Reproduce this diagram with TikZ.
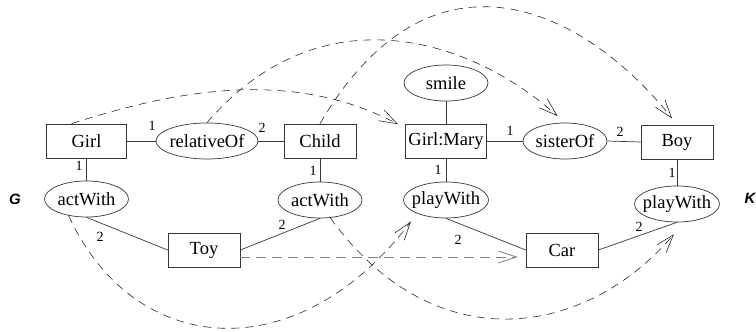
\documentclass[tikz,border=0pt]{standalone}
\usepackage{fontspec}
\setmainfont{Liberation Serif}
\setsansfont{Liberation Sans}
\usetikzlibrary{arrows.meta,shapes.geometric}
\definecolor{erline}{RGB}{55,55,55}
\definecolor{ermap}{RGB}{40,40,40}
\definecolor{ergrey}{RGB}{130,130,130}
\tikzset{
  ent/.style={
    draw=erline, line width=0.7pt, rectangle, inner sep=2pt,
    minimum width=72pt, minimum height=34pt,
    font=\fontsize{18.5}{20}\selectfont
  },
  assoc/.style={
    draw=erline, line width=0.7pt, ellipse, inner xsep=-4pt, inner ysep=1pt,
    minimum width=84pt, minimum height=36pt,
    font=\fontsize{18.5}{20}\selectfont
  },
  ln/.style={draw=erline, line width=0.7pt},
  card/.style={inner sep=0pt, font=\fontsize{14}{14}\selectfont},
  side/.style={font=\sffamily\bfseries\itshape\fontsize{15}{15}\selectfont},
  map/.style={
    draw=ermap, line width=0.6pt, dash pattern=on 8pt off 6pt,
    -{Straight Barb[length=18pt,width=12pt]}
  },
  gmap/.style={map, draw=ergrey, line width=0.9pt, dash pattern=on 10pt off 6pt}
}
\begin{document}
\begin{tikzpicture}[x=1pt, y=-1pt]
  \useasboundingbox (0,0) rectangle (756,332);
  % graph G
  \node[ent, minimum width=80pt] (girl) at (86.5,141) {Girl};
  \node[assoc, minimum width=102pt] (relof) at (207,141) {relativeOf};
  \node[ent] (child) at (320,141) {Child};
  \node[assoc] (aw1) at (86.5,199) {actWith};
  \node[assoc] (aw2) at (320,200) {actWith};
  \node[ent] (toy) at (204,250) {Toy};
  \node[side] (G) at (15,199) {G};
  % graph K
  \node[assoc] (smile) at (446,83) {smile};
  \node[ent, minimum width=81pt] (gm) at (446,141) {Girl:Mary};
  \node[assoc] (sis) at (565,141) {sisterOf};
  \node[ent] (boy) at (677,142) {Boy};
  \node[assoc] (pw1) at (446,200) {playWith};
  \node[assoc] (pw2) at (677,204) {playWith};
  \node[ent] (car) at (562,250) {Car};
  \node[side] (K) at (750,198) {K};
  \foreach \p/\q in {girl.east/relof.west, relof.east/child.west, girl.south/aw1.north,
    child.south/aw2.north, aw1.south/toy.west, toy.east/aw2.south,
    gm.east/sis.west, sis.east/boy.west, smile.south/gm.north, gm.south/pw1.north,
    pw1.south/car.west, car.east/pw2.south, boy.south/pw2.north}
    \draw[ln] (\p) -- (\q);
  \foreach \x/\y/\t [count=\i] in {152/126/1, 262/128/2, 79/166/1, 313/171/1, 100/237/2,
    282/225/2, 510/131/1, 620/132/2, 438/170/1, 458/240/2, 672/173/1, 639/227/2}
    \node[card] (c\i) at (\x,\y) {\t};
  % mapping G -> K
  \draw[map, shorten >=8pt] ([xshift=-15pt]girl.north) .. controls +(97,-31) and +(-117,-62) .. ([yshift=13pt]gm.west);
  \draw[map, shorten >=10pt] (relof.north) .. controls +(111,-129) and +(-99,-88) .. (sis.north);
  \draw[map, shorten >=8pt] (child.north) .. controls +(111,-190) and +(-93,-117) .. (boy.north);
  \draw[map, shorten >=10pt] (aw1.223) .. controls +(65,142) and +(-120,158) .. (pw1.205);
  \draw[map, shorten >=16pt] (aw2.300) .. controls +(104,144) and +(-99,116) .. (pw2.292);
  \draw[gmap, shorten >=8pt] ([yshift=-7pt]toy.east) -- ([yshift=-7pt]car.west);
\end{tikzpicture}
\end{document}
